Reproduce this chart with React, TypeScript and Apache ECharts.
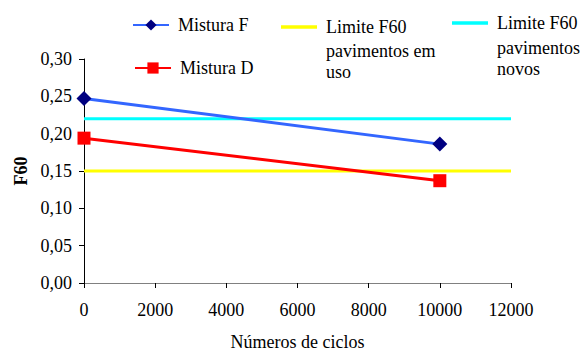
import React, { useEffect, useRef } from "react";
import * as echarts from "echarts";

const cycles = [0, 10000];
const misturaF = [0.247, 0.186];
const misturaD = [0.194, 0.137];
const limitRange = [0, 12000];
const limitEmUso = 0.15;
const limitNovos = 0.22;

const nameF = "Mistura F";
const nameD = "Mistura D";
const nameUso = "Limite F60 pavimentos em uso";
const nameNovos = "Limite F60 pavimentos novos";
const legendUsoLines = ["Limite F60", "pavimentos em", "uso"];
const legendNovosLines = ["Limite F60", "pavimentos", "novos"];

const FONT = "Liberation Serif";
const LINE_ICON = "path://M0,0H36V3.5H0Z";

export default function App() {
  const ref = useRef<HTMLDivElement>(null);
  useEffect(() => {
    if (!ref.current) return;
    const chart = echarts.init(ref.current, null, { renderer: "svg" });
    const baseLegend = {
      orient: "horizontal",
      padding: 0,
      itemWidth: 36,
      itemHeight: 14,
      selectedMode: false,
    };
    const legendText = {
      fontFamily: FONT,
      fontSize: 18,
      color: "#000",
      lineHeight: 22,
      padding: [0, 0, 0, 4],
    };
    const extraLines = (lines: string[], x: number, y: number, lh: number) => ({
      type: "text",
      left: x,
      top: y,
      style: {
        text: lines.slice(1).join("\n"),
        font: `18px ${FONT}`,
        fill: "#000",
        lineHeight: lh,
      },
    });
    chart.setOption({
      animation: false,
      backgroundColor: "#fff",
      textStyle: { fontFamily: FONT },
      legend: [
        { ...baseLegend, data: [nameF], left: 132, top: 14, textStyle: legendText },
        { ...baseLegend, data: [nameD], left: 134, top: 57, textStyle: legendText },
        {
          ...baseLegend,
          data: [{ name: nameUso, icon: LINE_ICON }],
          left: 281,
          top: 16,
          textStyle: legendText,
          formatter: () => legendUsoLines[0],
        },
        {
          ...baseLegend,
          data: [{ name: nameNovos, icon: LINE_ICON }],
          left: 452,
          top: 12,
          textStyle: legendText,
          formatter: () => legendNovosLines[0],
        },
      ],
      graphic: [
        extraLines(legendUsoLines, 326, 40, 21.5),
        extraLines(legendNovosLines, 497, 37, 21),
      ],
      grid: { left: 84, right: 72, top: 59, bottom: 68, containLabel: false },
      xAxis: {
        type: "value",
        min: 0,
        max: 12000,
        interval: 2000,
        name: "Números de ciclos",
        nameLocation: "middle",
        nameGap: 50,
        nameTextStyle: { fontFamily: FONT, fontSize: 18, color: "#000" },
        axisLine: { show: true, lineStyle: { color: "#808080", width: 1 } },
        axisTick: { show: true, length: 5, lineStyle: { color: "#000" } },
        axisLabel: {
          fontFamily: FONT,
          fontSize: 18,
          color: "#000",
          margin: 18,
          formatter: (v: number) => String(v),
        },
        splitLine: { show: false },
      },
      yAxis: {
        type: "value",
        min: 0,
        max: 0.3,
        interval: 0.05,
        name: "F60",
        nameLocation: "middle",
        nameGap: 54,
        nameRotate: 90,
        nameTextStyle: { fontFamily: FONT, fontSize: 18, fontWeight: "bold", color: "#000" },
        axisLine: { show: true, lineStyle: { color: "#000", width: 1 } },
        axisTick: { show: true, length: 5, lineStyle: { color: "#000" } },
        axisLabel: {
          fontFamily: FONT,
          fontSize: 18,
          color: "#000",
          margin: 12,
          formatter: (v: number) => v.toFixed(2).replace(".", ","),
        },
        splitLine: { show: false },
      },
      series: [
        {
          name: nameUso,
          type: "line",
          data: limitRange.map((x) => [x, limitEmUso]),
          symbol: "none",
          lineStyle: { color: "#FFFF00", width: 3 },
          itemStyle: { color: "#FFFF00" },
          z: 1,
        },
        {
          name: nameNovos,
          type: "line",
          data: limitRange.map((x) => [x, limitNovos]),
          symbol: "none",
          lineStyle: { color: "#00FFFF", width: 3 },
          itemStyle: { color: "#00FFFF" },
          z: 1,
        },
        {
          name: nameF,
          type: "line",
          data: cycles.map((x, i) => [x, misturaF[i]]),
          symbol: "diamond",
          symbolSize: 15,
          lineStyle: { color: "#3366FF", width: 3 },
          itemStyle: { color: "#000080" },
          z: 3,
        },
        {
          name: nameD,
          type: "line",
          data: cycles.map((x, i) => [x, misturaD[i]]),
          symbol: "rect",
          symbolSize: 13,
          lineStyle: { color: "#FF0000", width: 3 },
          itemStyle: { color: "#FF0000" },
          z: 3,
        },
      ],
    });
    return () => chart.dispose();
  }, []);
  return (
    <div
      ref={ref}
      style={{ position: "fixed", left: 0, top: 0, width: 583, height: 356, background: "#fff" }}
    />
  );
}
